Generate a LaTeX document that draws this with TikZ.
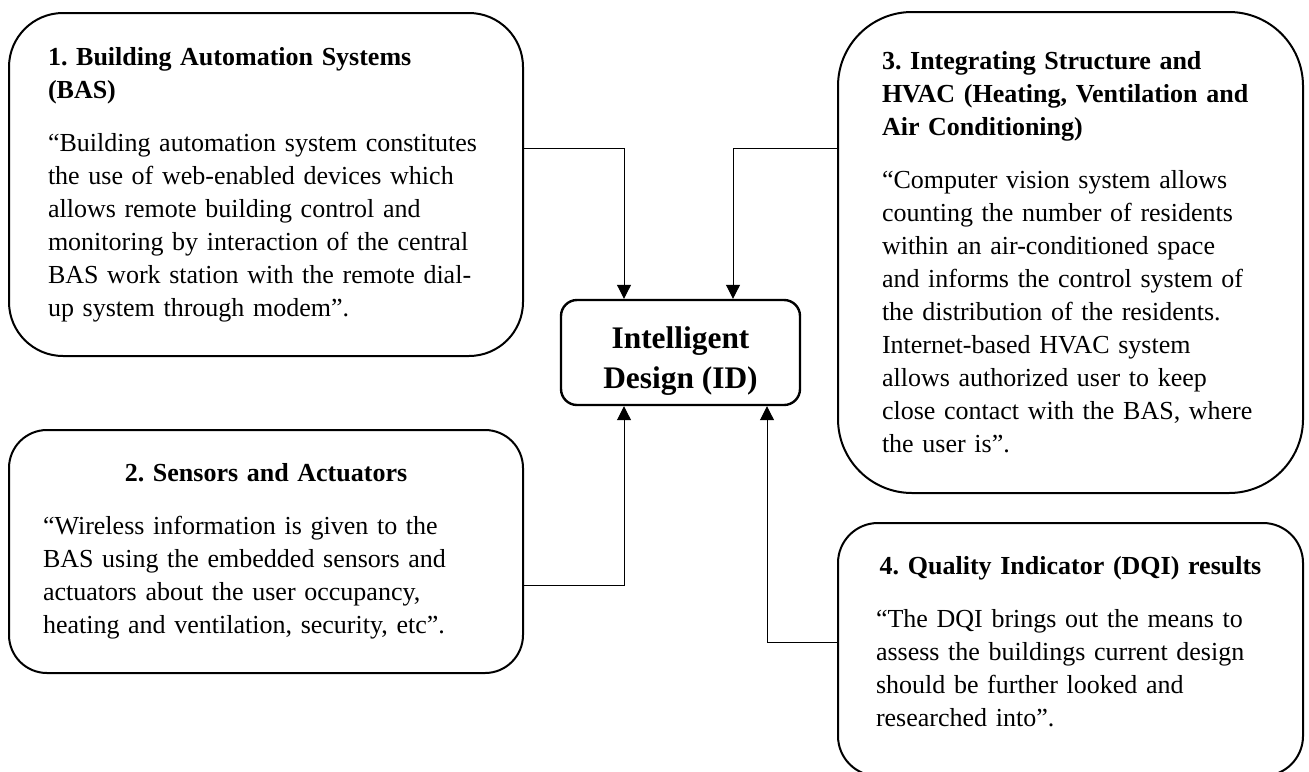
\documentclass[tikz,border=0pt]{standalone}
\usepackage{fontspec}
\setmainfont{Liberation Serif}
\usetikzlibrary{arrows.meta}
\frenchspacing
\tikzstyle{box}=[draw,line width=1pt,inner sep=0pt,align=left,
font=\fontsize{13pt}{16.5pt}\selectfont,
execute at begin node={\rightskip=-30pt plus 1fil\relax}]
\tikzstyle{idbox}=[draw,line width=1.2pt,rounded corners=8pt,inner sep=0pt,
minimum width=119.5pt,minimum height=52.5pt,align=center,text height=39pt,
font=\fontsize{15.7pt}{20pt}\selectfont\bfseries]
\tikzstyle{link}=[-{Triangle[width=7pt,length=7pt]},line width=.5pt]
\newcommand{\titlegap}{\\[10pt]}

\begin{document}
\begin{tikzpicture}[x=.5pt,y=-.5pt]

	\useasboundingbox (0,0) rectangle (1309,771);

	% the four boxes
	\node[box,rounded corners=27pt,minimum width=257pt,minimum height=171.5pt,
	text width=218pt] (bas) at (266,184.5)
	{\textbf{1. Building Automation Systems}\\ \textbf{(BAS)}\titlegap
	“Building automation system constitutes\\
	the use of web-enabled devices which\\
	allows remote building control and\\
	monitoring by interaction of the central\\
	BAS work station with the remote dial-\\
	up system through modem”.};

	\node[box,rounded corners=19pt,minimum width=257pt,minimum height=121.5pt,
	text width=223pt] (sens) at (266,551.5)
	{\makebox[\linewidth]{\bfseries 2. Sensors and Actuators}\titlegap
	“Wireless information is given to the\\
	BAS using the embedded sensors and\\
	actuators about the user occupancy,\\
	heating and ventilation, security, etc”.};

	\node[box,rounded corners=37pt,minimum width=232.5pt,minimum height=240.5pt,
	text width=188.5pt] (hvac) at (1070.5,252.5)
	{\textbf{3. Integrating Structure and}\\
	\textbf{HVAC (Heating, Ventilation and}\\
	\textbf{Air Conditioning)}\titlegap
	“Computer vision system allows\\
	counting the number of residents\\
	within an air-conditioned space\\
	and informs the control system of\\
	the distribution of the residents.\\
	Internet-based HVAC system\\
	allows authorized user to keep\\
	close contact with the BAS, where\\
	the user is”.};

	\node[box,rounded corners=20pt,minimum width=232.5pt,minimum height=126.5pt,
	text width=194.5pt] (dqi) at (1070.5,649.5)
	{\makebox[\linewidth]{\bfseries 4. Quality Indicator (DQI) results}\titlegap
	“The DQI brings out the means to\\
	assess the buildings current design\\
	should be further looked and\\
	researched into”.\\[-8pt]\mbox{}};

	% centre
	\node[idbox] (id) at (680.5,352.5) {Intelligent\\Design (ID)};

	%links
	\draw[link] (bas.east |- 0,148) -| (id.north -| 624,0);
	\draw[link] (hvac.west |- 0,148) -| (id.north -| 733,0);
	\draw[link] (sens.east |- 0,585) -| (id.south -| 624,0);
	\draw[link] (dqi.west |- 0,642) -| (id.south -| 767,0);
\end{tikzpicture}
\end{document}
